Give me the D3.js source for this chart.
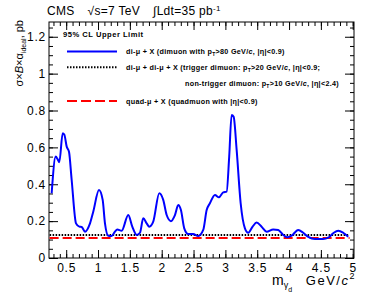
<!DOCTYPE html>
<html>
<head>
<meta charset="utf-8">
<script src="https://cdn.jsdelivr.net/npm/d3@7"></script>
<style>
  body { margin: 0; background: #fff; }
  text { font-family: "Liberation Sans", Arial, sans-serif; }
</style>
</head>
<body>
<div id="chart"></div>
<script>
// blue curve: di-mu + X
const massX = [0.272, 0.335, 0.367, 0.392, 0.445, 0.47, 0.508, 0.544, 0.586, 0.654, 0.706, 0.743, 0.795, 0.874, 0.925,
  1.015, 1.073, 1.109, 1.161, 1.214, 1.266, 1.302, 1.371, 1.475, 1.538, 1.607, 1.659, 1.71, 1.764, 1.805, 1.867,
  1.962, 2.024, 2.078, 2.145, 2.208, 2.26, 2.302, 2.354, 2.417, 2.495, 2.574, 2.652, 2.706, 2.757, 2.836, 2.899,
  2.966, 3.02, 3.06, 3.098, 3.13, 3.177, 3.24, 3.307, 3.359, 3.428, 3.49, 3.569, 3.648, 3.751, 3.83, 3.908,
  3.971, 4.04, 4.144, 4.222, 4.301, 4.406, 4.536, 4.615, 4.693, 4.772, 4.85, 4.929];
const dimuLimit = [0.351, 0.55, 0.535, 0.52, 0.676, 0.67, 0.604, 0.576, 0.423, 0.188, 0.17, 0.168, 0.143, 0.188, 0.251,
  0.369, 0.315, 0.188, 0.121, 0.119, 0.143, 0.155, 0.148, 0.233, 0.17, 0.125, 0.137, 0.215, 0.188, 0.17, 0.197,
  0.351, 0.315, 0.233, 0.2, 0.233, 0.287, 0.26, 0.161, 0.13, 0.13, 0.119, 0.152, 0.26, 0.297, 0.342, 0.329,
  0.356, 0.36, 0.55, 0.776, 0.766, 0.586, 0.297, 0.161, 0.137, 0.17, 0.192, 0.17, 0.143, 0.155, 0.152, 0.125,
  0.112, 0.121, 0.152, 0.137, 0.115, 0.103, 0.103, 0.11, 0.134, 0.148, 0.137, 0.115];

// flat limits
const flatX = [0.24, 4.95];
const dimuDimuLimit = [0.125, 0.125];
const quadmuLimit = [0.109, 0.109];

const xTicks = [0.5, 1, 1.5, 2, 2.5, 3, 3.5, 4, 4.5, 5];
const yTicks = [0, 0.2, 0.4, 0.6, 0.8, 1, 1.2];

const W = 374, H = 297;
const frame = { left: 49, right: 354, top: 22, bottom: 258 };

const svg = d3.select("#chart").append("svg")
  .attr("width", W).attr("height", H);
svg.append("rect").attr("width", W).attr("height", H).attr("fill", "#fff");

const x = d3.scaleLinear().domain([0.23, 5.02]).range([frame.left, frame.right]);
const y = d3.scaleLinear().domain([0, 1.28]).range([frame.bottom, frame.top]);

const minorX = d3.range(3, 51).map(d => d / 10);
const minorY = d3.range(0, 26).map(d => d / 20);

const styleLabels = g => g.selectAll("text")
  .attr("font-size", 12)
  .attr("font-family", "Liberation Sans, Arial, sans-serif")
  .attr("letter-spacing", "0.8px")
  .attr("fill", "#000");

// bottom axis, ticks inside
svg.append("g")
  .attr("transform", `translate(0,${frame.bottom})`)
  .call(d3.axisBottom(x).tickValues(minorX).tickSize(-4).tickFormat(""))
  .call(g => g.select(".domain").remove());
svg.append("g")
  .attr("transform", `translate(0,${frame.bottom})`)
  .call(d3.axisBottom(x).tickValues(xTicks).tickSize(-8).tickPadding(5).tickFormat(d3.format("~g")))
  .call(g => g.select(".domain").remove())
  .call(styleLabels);
// top axis
svg.append("g")
  .attr("transform", `translate(0,${frame.top})`)
  .call(d3.axisTop(x).tickValues(minorX).tickSize(-4).tickFormat(""))
  .call(g => g.select(".domain").remove());
svg.append("g")
  .attr("transform", `translate(0,${frame.top})`)
  .call(d3.axisTop(x).tickValues(xTicks).tickSize(-8).tickFormat(""))
  .call(g => g.select(".domain").remove());
// left axis
svg.append("g")
  .attr("transform", `translate(${frame.left},0)`)
  .call(d3.axisLeft(y).tickValues(minorY).tickSize(-4).tickFormat(""))
  .call(g => g.select(".domain").remove());
svg.append("g")
  .attr("transform", `translate(${frame.left},0)`)
  .call(d3.axisLeft(y).tickValues(yTicks).tickSize(-9).tickPadding(3).tickFormat(d3.format("~g")))
  .call(g => g.select(".domain").remove())
  .call(styleLabels);
// right axis
svg.append("g")
  .attr("transform", `translate(${frame.right},0)`)
  .call(d3.axisRight(y).tickValues(minorY).tickSize(-4).tickFormat(""))
  .call(g => g.select(".domain").remove());
svg.append("g")
  .attr("transform", `translate(${frame.right},0)`)
  .call(d3.axisRight(y).tickValues(yTicks).tickSize(-9).tickFormat(""))
  .call(g => g.select(".domain").remove());

svg.append("rect")
  .attr("x", frame.left).attr("y", frame.top)
  .attr("width", frame.right - frame.left).attr("height", frame.bottom - frame.top)
  .attr("fill", "none").attr("stroke", "#000").attr("stroke-width", 1);

const line = d3.line().x(d => x(d[0])).y(d => y(d[1]));

// flat limit lines
svg.append("path")
  .datum(d3.zip(flatX, quadmuLimit))
  .attr("d", line)
  .attr("fill", "none").attr("stroke", "#ff0000").attr("stroke-width", 2)
  .attr("stroke-dasharray", "9,4");
svg.append("path")
  .datum(d3.zip(flatX, dimuDimuLimit))
  .attr("d", line)
  .attr("fill", "none").attr("stroke", "#000").attr("stroke-width", 2)
  .attr("stroke-dasharray", "1.5,1.5");

// blue curve
svg.append("path")
  .datum(d3.zip(massX, dimuLimit))
  .attr("d", line.curve(d3.curveMonotoneX))
  .attr("fill", "none").attr("stroke", "#0000ff").attr("stroke-width", 2);

// header
const head = svg.append("text").attr("x", 47).attr("y", 15).attr("font-size", 12)
  .attr("letter-spacing", "0.3px");
head.append("tspan").text("CMS");
head.append("tspan").attr("dx", 13).text("\u221As=7 TeV");
head.append("tspan").attr("dx", 13).text("\u222BLdt=35 pb");
head.append("tspan").attr("dy", -4).attr("font-size", 8).text("-1");

// y title
const yt = svg.append("text")
  .attr("transform", "translate(23,20) rotate(-90)")
  .attr("text-anchor", "end").attr("font-size", 11);
yt.append("tspan").text("\u03C3\u00D7");
yt.append("tspan").attr("font-style", "italic").text("B");
yt.append("tspan").text("\u00D7\u03B1");
yt.append("tspan").attr("dy", 3).attr("font-size", 7).text("ideal");
yt.append("tspan").attr("dy", -3).text(", pb");

// x title
const xt = svg.append("text").attr("x", 272).attr("y", 285).attr("font-size", 14);
xt.append("tspan").text("m");
xt.append("tspan").attr("dy", 3).attr("font-size", 9).text("\u03B3");
xt.append("tspan").attr("dy", 4).attr("font-size", 7).text("d");
const xu = svg.append("text").attr("x", 356).attr("y", 285).attr("font-size", 13)
  .attr("text-anchor", "end").attr("letter-spacing", "1.5px");
xu.append("tspan").text("GeV/");
xu.append("tspan").attr("font-style", "italic").text("c");
xu.append("tspan").attr("dy", -6).attr("font-size", 9).text("2");

// legend
const lg = svg.append("g").attr("font-size", 7.2).attr("font-weight", "bold").attr("letter-spacing", "0.3px");
lg.append("text").attr("x", 63).attr("y", 37).attr("font-size", 7.6).attr("letter-spacing", "0.5px")
  .text("95% CL Upper Limit");

function addEntry(yPos, parts, xPos) {
  const t = lg.append("text").attr("x", xPos || 126).attr("y", yPos + 2.5);
  parts.forEach(p => {
    const s = t.append("tspan").text(p.t);
    if (p.sub) s.attr("dy", 2).attr("font-size", 5);
    if (p.up) s.attr("dy", -2);
    if (p.it) s.attr("font-style", "italic");
  });
}
const pt = (rest) => [{ t: "T", sub: true }, { t: rest, up: true }];

lg.append("line").attr("x1", 67).attr("x2", 117).attr("y1", 51.5).attr("y2", 51.5)
  .attr("stroke", "#0000ff").attr("stroke-width", 2);
addEntry(51.5, [{ t: "di-\u03BC + X (dimuon with p" }, ...pt(">80 GeV/"), { t: "c", it: true }, { t: ", |\u03B7|<0.9)" }]);

lg.append("line").attr("x1", 67).attr("x2", 117).attr("y1", 67.3).attr("y2", 67.3)
  .attr("stroke", "#000").attr("stroke-width", 2).attr("stroke-dasharray", "1.5,1.5");
addEntry(67.3, [{ t: "di-\u03BC + di-\u03BC + X (trigger dimuon: p" }, ...pt(">20 GeV/"), { t: "c", it: true }, { t: ", |\u03B7|<0.9;" }]);
addEntry(83.3, [{ t: "non-trigger dimuon: p" }, ...pt(">10 GeV/"), { t: "c", it: true }, { t: ", |\u03B7|<2.4)" }], 185);

lg.append("line").attr("x1", 67).attr("x2", 117).attr("y1", 101).attr("y2", 101)
  .attr("stroke", "#ff0000").attr("stroke-width", 2).attr("stroke-dasharray", "10,4");
addEntry(101, [{ t: "quad-\u03BC + X (quadmuon with |\u03B7|<0.9)" }]);
</script>
</body>
</html>
